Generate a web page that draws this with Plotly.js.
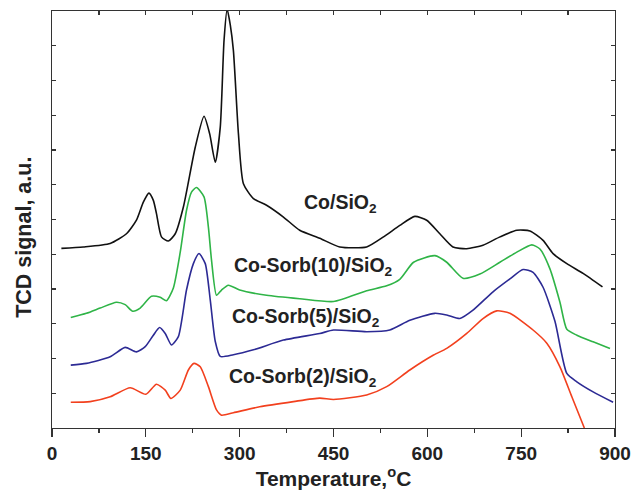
<!DOCTYPE html>
<html><head><meta charset="utf-8">
<script src="https://cdn.plot.ly/plotly-3.0.1.min.js"></script>
<style>body{margin:0;background:#fff}#c{width:631px;height:494px}</style>
</head><body><div id="c"></div>
<script>
// Co/SiO2
const tBlack = [15,50,93,119,135,146,155,162,167,175,186,197,210,229,243,252,261,269,275,280,285,290,298,306,322,343,370,396,428,460,503,530,556,580,599,620,641,663,689,716,743,764,785,801,823,849,880];
const yBlack = [5.17,5.21,5.31,5.59,5.98,6.5,6.76,6.55,6.17,5.50,5.38,5.59,6.36,8.08,8.97,8.47,7.65,8.66,11.15,12.05,11.6,10.86,8.47,7.03,6.60,6.41,6.07,5.69,5.46,5.21,5.21,5.50,5.83,6.09,5.98,5.59,5.21,5.16,5.26,5.50,5.69,5.67,5.40,5.02,4.73,4.45,4.06];
// Co-Sorb(10)/SiO2
const tGreen = [30,55,77,103,117,129,141,159,173,183,194,205,215,223,231,243,250,255,263,271,282,300,343,396,450,503,535,556,578,612,631,657,684,716,743,767,780,796,812,823,839,865,892];
const yGreen = [3.18,3.30,3.45,3.62,3.55,3.36,3.45,3.79,3.76,3.66,4.03,5.06,6.26,6.79,6.92,6.65,5.78,4.83,3.82,3.97,4.11,3.97,3.82,3.72,3.64,3.95,4.09,4.28,4.77,4.96,4.77,4.31,4.43,4.77,5.06,5.27,5.15,4.58,3.62,2.84,2.67,2.48,2.29];
// Co-Sorb(5)/SiO2
const tBlue = [30,55,93,117,135,149,162,172,181,191,202,215,226,235,245,253,261,269,290,322,370,428,450,503,540,572,612,631,652,673,705,732,753,769,785,804,823,839,865,897];
const yBlue = [1.81,1.86,2.05,2.32,2.19,2.34,2.67,2.89,2.72,2.39,2.63,3.97,4.73,5.02,4.73,3.68,2.49,2.06,2.11,2.25,2.53,2.72,2.82,2.77,2.82,3.10,3.30,3.25,3.15,3.39,3.92,4.29,4.56,4.48,4.05,3.07,1.57,1.33,1.04,0.74];
// Co-Sorb(2)/SiO2
const tRed = [30,61,93,125,150,167,181,190,205,218,227,237,250,263,271,290,332,386,428,450,503,535,572,610,631,663,689,711,732,769,791,812,831,851];
const yRed = [0.74,0.76,0.90,1.16,0.97,1.26,1.09,0.85,1.09,1.67,1.86,1.76,1.19,0.52,0.37,0.44,0.61,0.76,0.86,0.82,0.95,1.19,1.67,2.10,2.29,2.72,3.15,3.37,3.30,2.82,2.44,1.76,0.90,0.0];

const labels = ['Co/SiO<sub>2</sub>','Co-Sorb(10)/SiO<sub>2</sub>','Co-Sorb(5)/SiO<sub>2</sub>','Co-Sorb(2)/SiO<sub>2</sub>'];
const labelT = [400, 288, 284, 279];
const labelY = [6.47, 4.66, 3.19, 1.44];
const xTicks = [0,150,300,450,600,750,900];

const mk = (x,y,c)=>({x:x,y:y,type:'scatter',mode:'lines',line:{color:c,width:1.6,shape:'spline',smoothing:0.6},hoverinfo:'skip'});
const data = [
  mk(tBlack,yBlack,'#111111'),
  mk(tGreen,yGreen,'#2fb447'),
  mk(tBlue,yBlue,'#2c2a94'),
  mk(tRed,yRed,'#f2401e'),
  {x:[0,900],y:[0,12],type:'scatter',mode:'none',xaxis:'x2',yaxis:'y2',hoverinfo:'skip',showlegend:false}
];
const font = {family:'Liberation Sans, Arial, sans-serif', color:'#222', size:19};
const layout = {
  width:631,height:494,
  margin:{l:52,r:16,t:11,b:66},
  paper_bgcolor:'#fff',plot_bgcolor:'#fff',
  showlegend:false,
  font:font,
  xaxis:{range:[0,900],tickvals:xTicks,ticktext:xTicks.map(String),ticks:'outside',ticklen:8,tickwidth:1.3,tickcolor:'#333',
    minor:{dtick:75,tick0:0,ticks:'outside',ticklen:4,tickwidth:1.3,tickcolor:'#333',showgrid:false},
    showgrid:false,zeroline:false,showline:true,linecolor:'#333',linewidth:1.3,mirror:true,
    tickfont:{family:'Liberation Sans, Arial, sans-serif',size:19,color:'#222',weight:'bold'},
    title:{text:'<b>Temperature,<sup>o</sup>C</b>',font:{size:21,color:'#222'},standoff:8}},
  xaxis2:{overlaying:'x',side:'top',range:[0,900],dtick:75,tick0:0,ticks:'inside',ticklen:4,tickwidth:1.3,tickcolor:'#333',
    showticklabels:false,showgrid:false,zeroline:false,showline:false},
  yaxis:{range:[0,12],dtick:1,tick0:0,ticks:'inside',ticklen:4,tickwidth:1.3,tickcolor:'#333',showticklabels:false,
    showgrid:false,zeroline:false,showline:true,linecolor:'#333',linewidth:1.3,mirror:true},
  yaxis2:{overlaying:'y',side:'right',range:[0,12],dtick:1,tick0:0,ticks:'inside',ticklen:4,tickwidth:1.3,tickcolor:'#333',
    showticklabels:false,showgrid:false,zeroline:false,showline:false},
  annotations: labels.map((t,i)=>({x:labelT[i],y:labelY[i],xref:'x',yref:'y',text:'<b>'+t+'</b>',showarrow:false,xanchor:'left',yanchor:'middle',font:{size:19.5,color:'#222'}}))
    .concat([{x:-0.0497,y:0.456,xref:'paper',yref:'paper',text:'<b>TCD signal, a.u.</b>',textangle:-90,showarrow:false,xanchor:'center',yanchor:'middle',font:{size:21.5,color:'#222'}}])
};
Plotly.newPlot('c',data,layout,{staticPlot:true});
</script></body></html>
